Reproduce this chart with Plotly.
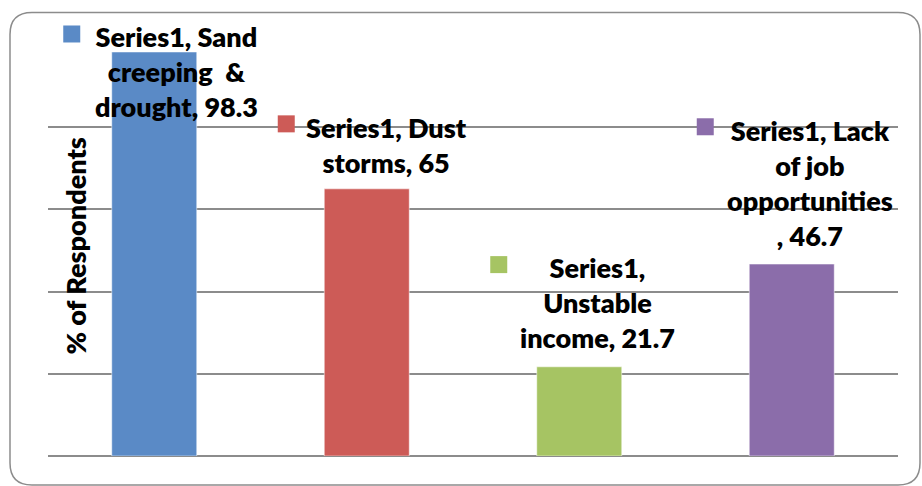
import plotly.graph_objects as go

categories = ["Sand creeping & drought", "Dust storms", "Unstable income", "Lack of job opportunities"]
values = [98.3, 65, 21.7, 46.7]
label_texts = [
    "Series1, Sand<br>creeping  &<br>drought, 98.3",
    "Series1, Dust<br>storms, 65",
    "Series1,<br>Unstable<br>income, 21.7",
    "Series1, Lack<br>of job<br>opportunities<br>, 46.7",
]
colors = ["#5A8AC6", "#CD5B57", "#A6C463", "#8B6DAA"]
y_title = "% of Respondents"

# label placement offsets (pixels, relative to bar top centre)
label_shift = [(22, -19.5), (20, 44), (18, 64), (18, 81)]
key_box = [(-91, 9.5), (-89, 56.5), (-89, 93.7), (-95, 128.8)]

W, H = 922, 486
ML, MR, MT, MB = 48, 24, 44.5, 30
PW, PH = W - ML - MR, H - MT - MB
Y_MAX = 100

fig = go.Figure()
fig.add_trace(go.Bar(
    x=list(range(len(categories))), y=values,
    marker=dict(color=colors, line=dict(color="rgba(255,255,255,0.5)", width=1)),
    width=0.4, hoverinfo="skip",
))

font_family = "Lato, Carlito, Calibri, 'Open Sans', sans-serif"
annotations = []
shapes = []
for i, (txt, v) in enumerate(zip(label_texts, values)):
    dx, dy = label_shift[i]
    annotations.append(dict(
        x=i, y=v, xref="x", yref="y", text=txt, showarrow=False,
        xanchor="center", yanchor="middle", align="center",
        xshift=dx, yshift=dy,
        font=dict(family=font_family, size=27, color="#000000", weight=800),
    ))
    kx, ky = key_box[i]
    shapes.append(dict(
        type="rect", xref="x", yref="paper", xsizemode="pixel", ysizemode="pixel",
        xanchor=i, yanchor=v / Y_MAX, x0=kx, x1=kx + 17, y0=ky, y1=ky + 17,
        fillcolor=colors[i], line=dict(width=0),
    ))

annotations.append(dict(
    x=0, y=0.5, xref="paper", yref="paper", text=y_title,
    showarrow=False, textangle=-90, xanchor="center", yanchor="middle",
    xshift=27, yshift=4,
    font=dict(family=font_family, size=27, color="#000000", weight=800),
))

# rounded chart border (pixel coords converted to paper coords)
def P(px, py):
    return "%.5f,%.5f" % ((px - ML) / PW, (H - MB - py) / PH)

x0b, x1b, y0b, y1b, r = 10, 920, 12, 485, 22
path = ("M " + P(x0b + r, y0b) + " L " + P(x1b - r, y0b) + " Q " + P(x1b, y0b) + " " + P(x1b, y0b + r)
        + " L " + P(x1b, y1b - r) + " Q " + P(x1b, y1b) + " " + P(x1b - r, y1b)
        + " L " + P(x0b + r, y1b) + " Q " + P(x0b, y1b) + " " + P(x0b, y1b - r)
        + " L " + P(x0b, y0b + r) + " Q " + P(x0b, y0b) + " " + P(x0b + r, y0b) + " Z")
shapes.append(dict(type="path", xref="paper", yref="paper", path=path,
                   line=dict(color="#8C8C8C", width=1.5), layer="below"))

fig.update_layout(
    width=W, height=H, margin=dict(l=ML, r=MR, t=MT, b=MB),
    paper_bgcolor="white", plot_bgcolor="white", showlegend=False,
    xaxis=dict(range=[-0.5, 3.5], showticklabels=False, showgrid=False, zeroline=False,
               showline=False, ticks=""),
    yaxis=dict(range=[0, Y_MAX], dtick=20, showticklabels=False, showgrid=True,
               gridcolor="#8C8C8C", gridwidth=1.5, zeroline=True, zerolinecolor="#8C8C8C",
               zerolinewidth=1.5, showline=False, ticks=""),
    annotations=annotations, shapes=shapes,
)
fig.write_html("out.html")
